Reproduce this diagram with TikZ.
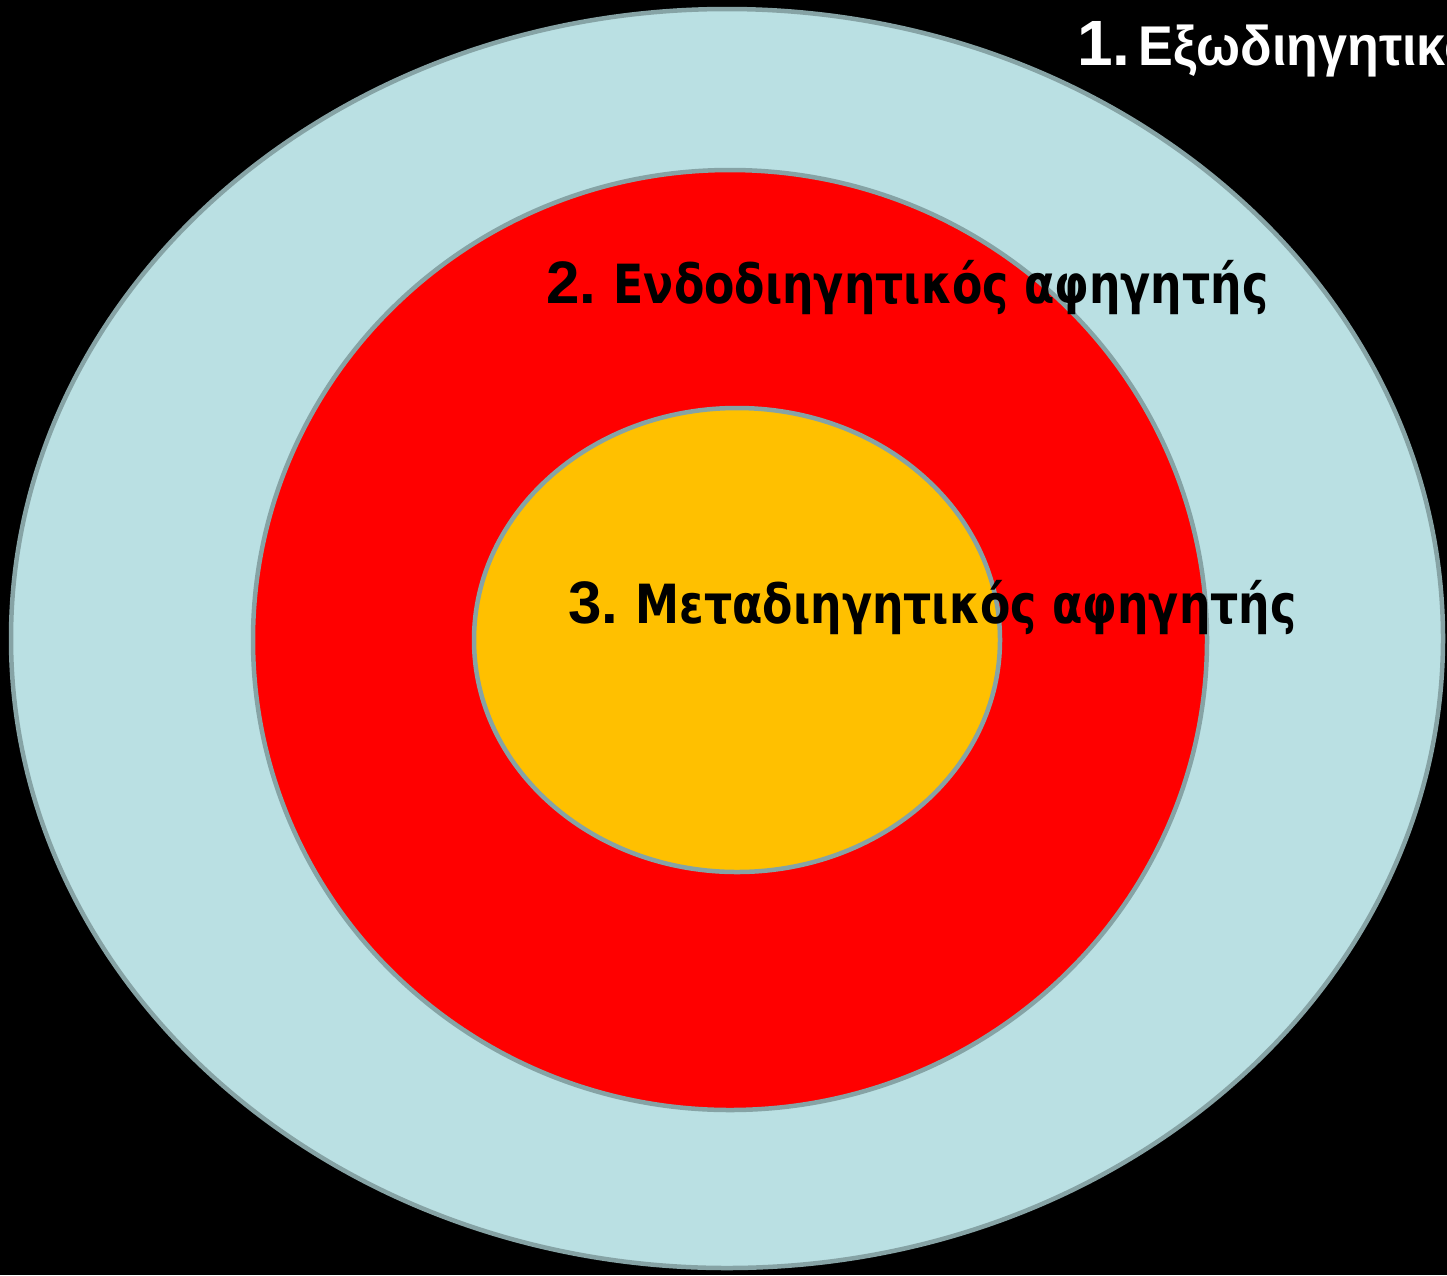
\documentclass[tikz,border=0pt]{standalone}
\usepackage{fontspec}
\setmainfont{Liberation Sans}
\newfontfamily\grk[FakeStretch=0.91]{DejaVu Sans Condensed}
\newfontfamily\grkw[FakeStretch=0.93]{Liberation Sans}
\definecolor{ringblue}{HTML}{BAE0E3}
\definecolor{ringred}{HTML}{FF0000}
\definecolor{ringgold}{HTML}{FFC000}
\definecolor{ringline}{HTML}{86A3A5}
\begin{document}
\begin{tikzpicture}[x=1pt,y=-1pt,
  ring/.style={draw=ringline, line width=4.5pt},
  lbl/.style={anchor=base west, inner sep=0pt, font=\bfseries}]
\fill[black] (0,0) rectangle (1447,1275);
\useasboundingbox (0,0) rectangle (1447,1275);
\path[ring, fill=ringblue] (727,638.5) ellipse [x radius=716, y radius=629.5];
\path[ring, fill=ringred] (730,640) ellipse [x radius=477, y radius=470];
\path[ring, fill=ringgold] (737,640) ellipse [x radius=263, y radius=232];
\node[lbl, text=white] (t1) at (1077,65) {\fontsize{64}{70}\selectfont 1.{\grkw\fontsize{56}{60}\selectfont\hspace{8pt}Εξωδιηγητικός αφηγητής}};
\node[lbl, text=black] (t2) at (546,303) {\fontsize{60}{66}\selectfont 2.{\grk\fontsize{54}{60}\selectfont\hspace{-3pt} Ενδοδιηγητικός αφηγητής}};
\node[lbl, text=black] (t3) at (568,623) {\fontsize{60}{66}\selectfont 3.{\grk\fontsize{54}{60}\selectfont\hspace{-3pt} Μεταδιηγητικός αφηγητής}};
\end{tikzpicture}
\end{document}
